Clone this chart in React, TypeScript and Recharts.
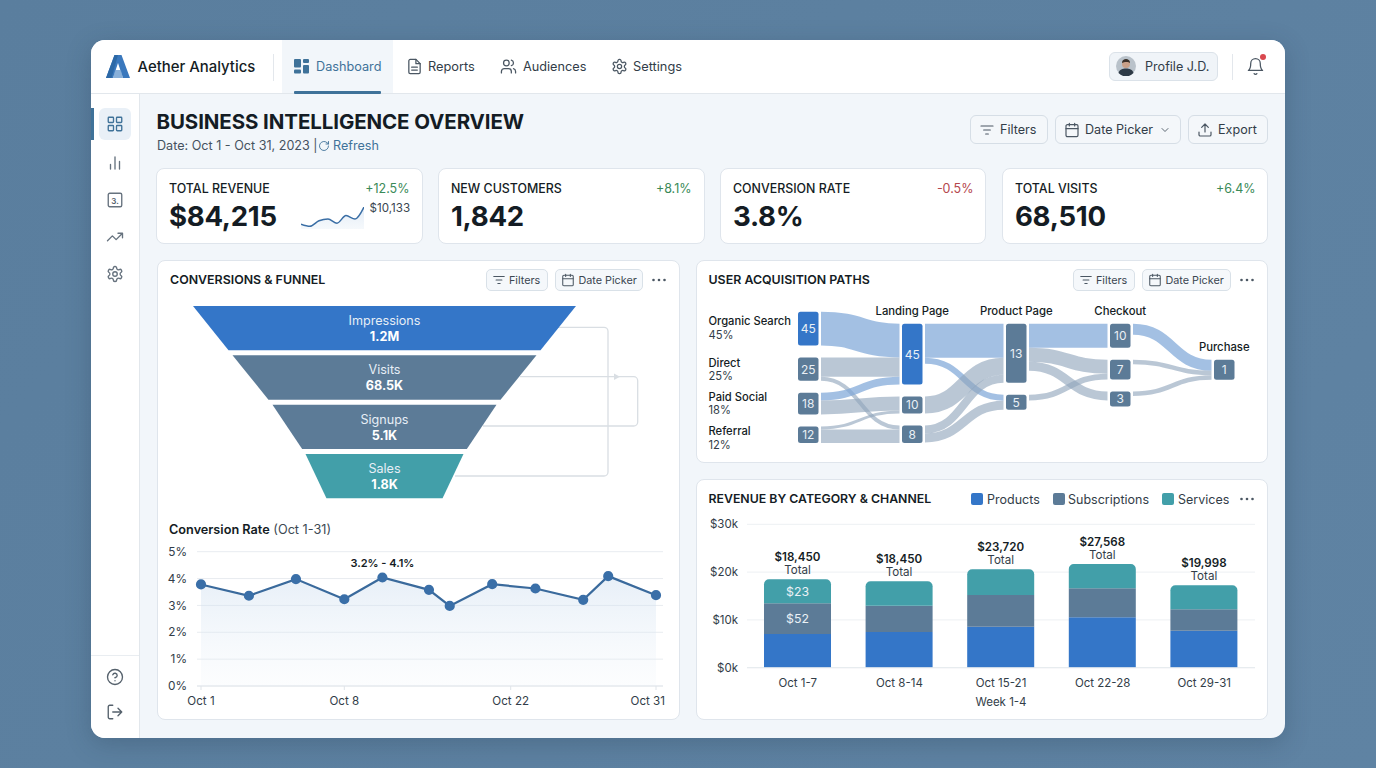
import React from 'react';
import {
  AreaChart, Area, ComposedChart, Line, XAxis, YAxis, CartesianGrid, BarChart, Bar,
  FunnelChart, Funnel, Sankey,
} from 'recharts';

// ---------- data ----------
const kpiLabels = ['TOTAL REVENUE', 'NEW CUSTOMERS', 'CONVERSION RATE', 'TOTAL VISITS'];
const kpiValues = ['$84,215', '1,842', '3.8%', '68,510'];
const kpiDeltas = ['+12.5%', '+8.1%', '-0.5%', '+6.4%'];
const sparkValues = [8.23, 8.0, 8.61, 8.8, 8.34, 9.18, 8.8, 10.13];

const funnelStages = ['Impressions', 'Visits', 'Signups', 'Sales'];
const funnelFigures = ['1.2M', '68.5K', '5.1K', '1.8K'];
const funnelDrawnValues = [383, 304, 224, 158];

const rateAxisPos = [0, 3.16, 6.26, 9.45, 11.96, 15.03, 16.4, 19.2, 22.05, 25.2, 26.85, 30];
const rateValues = [3.78, 3.36, 3.98, 3.23, 4.04, 3.58, 2.98, 3.79, 3.63, 3.21, 4.09, 3.38];
const rateTickPos = [0, 9.45, 20.42, 30];
const rateTickLabels = ['Oct 1', 'Oct 8', 'Oct 22', 'Oct 31'];
const rateTicksY = [0, 1, 2, 3, 4, 5];

// Nodes with no "shown" text are empty rows that keep the columns stepped as in the picture.
const sankeyNodes = [
  { name: 'Organic Search', share: '45%', shown: '45' },
  { name: 'Direct', share: '25%', shown: '25' },
  { name: 'Paid Social', share: '18%', shown: '18' },
  { name: 'Referral', share: '12%', shown: '12' },
  { name: 'row1' },
  { name: 'Landing Page', shown: '45' },
  { name: 'Landing B', shown: '10' },
  { name: 'Landing C', shown: '8' },
  { name: 'row2' },
  { name: 'Product Page', shown: '13' },
  { name: 'Product B', shown: '5' },
  { name: 'row3' },
  { name: 'Checkout', shown: '10' },
  { name: 'Checkout B', shown: '7' },
  { name: 'Checkout C', shown: '3' },
  { name: 'row4a' },
  { name: 'row4b' },
  { name: 'row4c' },
  { name: 'row4d' },
  { name: 'Purchase', shown: '1' },
];
const sankeyFlows: [string, string, number][] = [
  ['Organic Search', 'row1', 0],
  ['row1', 'row2', 0],
  ['row2', 'row3', 0],
  ['row3', 'row4a', 0],
  ['row3', 'row4b', 0],
  ['row3', 'row4c', 0],
  ['row3', 'row4d', 0],
  ['Organic Search', 'Landing Page', 33.7],
  ['Direct', 'Landing Page', 19.3],
  ['Direct', 'Landing C', 4],
  ['Paid Social', 'Landing Page', 7.7],
  ['Paid Social', 'Landing B', 14],
  ['Referral', 'Landing B', 3],
  ['Referral', 'Landing C', 13.7],
  ['Landing Page', 'Product Page', 34],
  ['Landing Page', 'Product B', 6],
  ['Landing B', 'Product Page', 17],
  ['Landing C', 'Product Page', 8],
  ['Landing C', 'Product B', 9],
  ['Product Page', 'Checkout', 24],
  ['Product Page', 'Checkout B', 14],
  ['Product Page', 'Checkout C', 9],
  ['Product B', 'Checkout B', 5.7],
  ['Checkout', 'Purchase', 11],
  ['Checkout B', 'Purchase', 4.5],
  ['Checkout C', 'Purchase', 4.5],
];
const sankeyBlueLinks = ['Organic Search>Landing Page', 'Paid Social>Landing Page', 'Landing Page>Product Page', 'Landing Page>Product B', 'Product Page>Checkout', 'Checkout>Purchase'];
const sankeyBlueNodes = ['Organic Search', 'Landing Page'];
const sankeyHeadings = ['Landing Page', 'Product Page', 'Checkout', 'Purchase'];

const weeks = ['Oct 1-7', 'Oct 8-14', 'Oct 15-21', 'Oct 22-28', 'Oct 29-31'];
const products = [7.05, 7.47, 8.58, 10.54, 7.75];
const subscriptions = [6.42, 5.51, 6.63, 6.07, 4.46];
const services = [5.02, 5.09, 5.38, 5.09, 5.03];
const weekTotals = ['$18,450', '$18,450', '$23,720', '$27,568', '$19,998'];
const subsNotes = ['$52'];
const servNotes = ['$23'];
const revenueTicks = [0, 10, 20, 30];
const legendNames = ['Products', 'Subscriptions', 'Services'];

// ---------- tables ----------
const sparkData = sparkValues.map((v, i) => ({ i, v }));
const funnelData = funnelStages.map((stage, i) => ({ stage, figure: funnelFigures[i], value: funnelDrawnValues[i] }));
const rateData = rateAxisPos.map((pos, i) => ({ pos, rate: rateValues[i] }));
const revenueData = weeks.map((week, i) => ({ week, products: products[i], subscriptions: subscriptions[i], services: services[i] }));
const nodeIndex = (name: string) => sankeyNodes.findIndex((n) => n.name === name);
const sankeyData = {
  nodes: sankeyNodes,
  links: sankeyFlows.map(([s, t, value]) => ({ source: nodeIndex(s), target: nodeIndex(t), value })),
};

// ---------- style ----------
const FONT = 'Inter, "Noto Sans", sans-serif';
const BLUE = '#3476c8';
const SLATE = '#5c7b97';
const TEAL = '#429fa9';
const INK = '#141c24';
const TEXT = '#323d48';
const ACCENT = '#3f7299';
const FUNNEL_FILL = [BLUE, SLATE, SLATE, TEAL];
const LAST_TAPER = 0.735;

const T = ({ x, y, size = 13, weight = 400, color = TEXT, right, center, spacing, children }: any) => (
  <div style={{
    position: 'absolute', left: right === undefined ? x : undefined, right: right === undefined ? undefined : 1376 - right, top: y,
    transform: center ? 'translate(-50%,-50%)' : 'translateY(-50%)', fontSize: size, fontWeight: weight, color, letterSpacing: spacing,
    whiteSpace: 'nowrap', lineHeight: 1, fontFamily: FONT,
  }}>{children}</div>
);

const Box = ({ x, y, w, h, r = 8, bg = '#fff', border = '#dfe5ec', children }: any) => (
  <div style={{ position: 'absolute', left: x, top: y, width: w, height: h, borderRadius: r, background: bg, border: border ? `1px solid ${border}` : 'none', boxSizing: 'border-box' }}>{children}</div>
);

const Ico = ({ cx, cy, s = 16, color = '#4b5763', sw = 1.8, children }: any) => (
  <svg width={s} height={s} viewBox="0 0 24 24" fill="none" stroke={color} strokeWidth={sw} strokeLinecap="round" strokeLinejoin="round"
    style={{ position: 'absolute', left: cx - s / 2, top: cy - s / 2 }}>{children}</svg>
);

const FilterI = () => <path d="M3 6h18M7 12h10M10 18h4" />;
const CalI = () => <><rect x="3" y="4" width="18" height="18" rx="2" /><path d="M3 10h18M8 2v4M16 2v4" /></>;
const GearI = () => <><circle cx="12" cy="12" r="3" /><path d="M12.22 2h-.44a2 2 0 0 0-2 2v.18a2 2 0 0 1-1 1.73l-.43.25a2 2 0 0 1-2 0l-.15-.08a2 2 0 0 0-2.73.73l-.22.38a2 2 0 0 0 .73 2.73l.15.1a2 2 0 0 1 1 1.72v.51a2 2 0 0 1-1 1.74l-.15.09a2 2 0 0 0-.73 2.73l.22.38a2 2 0 0 0 2.73.73l.15-.08a2 2 0 0 1 2 0l.43.25a2 2 0 0 1 1 1.73V20a2 2 0 0 0 2 2h.44a2 2 0 0 0 2-2v-.18a2 2 0 0 1 1-1.73l.43-.25a2 2 0 0 1 2 0l.15.08a2 2 0 0 0 2.73-.73l.22-.39a2 2 0 0 0-.73-2.73l-.15-.08a2 2 0 0 1-1-1.74v-.5a2 2 0 0 1 1-1.74l.15-.09a2 2 0 0 0 .73-2.73l-.22-.38a2 2 0 0 0-2.73-.73l-.15.08a2 2 0 0 1-2 0l-.43-.25a2 2 0 0 1-1-1.73V4a2 2 0 0 0-2-2z" /></>;

const Dots = ({ cx, cy }: any) => (
  <svg width="16" height="4" style={{ position: 'absolute', left: cx - 8, top: cy - 2 }}>
    <circle cx="2.5" cy="2" r="1.3" fill="#4b5763" /><circle cx="8" cy="2" r="1.3" fill="#4b5763" /><circle cx="13.5" cy="2" r="1.3" fill="#4b5763" />
  </svg>
);

const MiniBtns = ({ fx, dx, w2, dots }: any) => (
  <>
    <Box x={fx} y={269} w={62} h={22} r={5} bg="#f5f8fb" border="#d9e1e8" />
    <Ico cx={fx + 13} cy={280} s={14}><FilterI /></Ico>
    <T x={fx + 23} y={280.5} size={10.8} color="#3b4651">Filters</T>
    <Box x={dx} y={269} w={w2} h={22} r={5} bg="#f5f8fb" border="#d9e1e8" />
    <Ico cx={dx + 13} cy={280} s={14}><CalI /></Ico>
    <T x={dx + 23.5} y={280.5} size={10.8} color="#3b4651">Date Picker</T>
    <Dots cx={dots} cy={280} />
  </>
);

// ---------- chart parts ----------
const FunnelShape = (p: any) => {
  const { x, y, upperWidth, lowerWidth, height, stage, figure } = p.payload && p.payload.stage ? { ...p, ...p.payload, x: p.x, y: p.y } : p;
  const idx = funnelStages.indexOf(stage);
  const gap = 5;
  const h = height - gap;
  const cx = x + upperWidth / 2;
  const low = lowerWidth === upperWidth ? upperWidth * LAST_TAPER : lowerWidth;
  const bottom = upperWidth + (low - upperWidth) * (idx === funnelStages.length - 1 ? 1 : h / height);
  return (
    <g>
      <path d={`M${cx - upperWidth / 2},${y}L${cx + upperWidth / 2},${y}L${cx + bottom / 2},${y + h}L${cx - bottom / 2},${y + h}Z`} fill={FUNNEL_FILL[idx]} />
      <text x={cx} y={y + 14.5} textAnchor="middle" dominantBaseline="central" fill="#e6eef6" fontSize={12.6} fontFamily={FONT}>{stage}</text>
      <text x={cx} y={y + 30.5} textAnchor="middle" dominantBaseline="central" fill="#fff" fontSize={12.6} fontWeight={700} fontFamily={FONT}>{figure}</text>
    </g>
  );
};

const SankeyNode = (p: any) => {
  const { x, y, width, height, payload } = p;
  if (!payload.shown) return <g />;
  const h = Math.max(height, 15);
  const fill = sankeyBlueNodes.includes(payload.name) ? BLUE : SLATE;
  return (
    <g>
      <rect x={x} y={y} width={width} height={h} rx={2.5} fill={fill} />
      <text x={x + width / 2} y={y + h / 2} textAnchor="middle" dominantBaseline="central" fill="#e9eff5" fontSize={12} fontFamily={FONT}>{payload.shown}</text>
      {sankeyHeadings.includes(payload.name) && (
        <text x={x + width / 2} y={y - 13} textAnchor="middle" dominantBaseline="central" fill={INK} fontSize={11.3} fontWeight={500} fontFamily={FONT}>{payload.name}</text>
      )}
    </g>
  );
};

const SankeyLink = (p: any) => {
  const { sourceX, targetX, sourceY, targetY, sourceControlX, targetControlX, linkWidth, payload } = p;
  if (!linkWidth) return <g />;
  const key = `${payload.source.name}>${payload.target.name}`;
  const blue = sankeyBlueLinks.includes(key);
  const pad = 2.5;
  return (
    <path d={`M${sourceX + pad},${sourceY}C${sourceControlX},${sourceY} ${targetControlX},${targetY} ${targetX - pad},${targetY}`}
      fill="none" stroke={blue ? '#7fa8d8' : '#8fa5bb'} strokeOpacity={blue ? 0.72 : 0.62} strokeWidth={linkWidth} />
  );
};

const RateTick = ({ x, y, payload }: any) => {
  const i = rateTickPos.indexOf(payload.value);
  const last = i === rateTickPos.length - 1;
  return <text x={last ? x + 9 : x} y={y + 8.7} textAnchor={last ? 'end' : 'middle'} dominantBaseline="central" fontSize={11.6} fill={TEXT} fontFamily={FONT}>{rateTickLabels[i]}</text>;
};

const rangeLabel = ({ x, y, index }: any) => (index === 4
  ? <text key="range" x={x} y={y - 14} textAnchor="middle" dominantBaseline="central" fontSize={11} fontWeight={600} fill={INK} fontFamily={FONT}>3.2% - 4.1%</text>
  : <g key={index} />);

const totalLabel = ({ x, y, width, index }: any) => (
  <g key={index}>
    <text x={x + width / 2} y={y - 22} textAnchor="middle" dominantBaseline="central" fontSize={11.6} fontWeight={600} fill={INK} fontFamily={FONT}>{weekTotals[index]}</text>
    <text x={x + width / 2} y={y - 9} textAnchor="middle" dominantBaseline="central" fontSize={11.6} fill={TEXT} fontFamily={FONT}>Total</text>
  </g>
);

const noteLabel = (notes: string[]) => ({ x, y, width, height, index }: any) => (notes[index]
  ? <text key={index} x={x + width / 2} y={y + height / 2} textAnchor="middle" dominantBaseline="central" fontSize={12.3} fill="#eaf1f6" fontFamily={FONT}>{notes[index]}</text>
  : <g key={index} />);

const at = (x: number, y: number): React.CSSProperties => ({ position: 'absolute', left: x, top: y });
const kpiX = [156, 438, 720, 1002];
const kpiW = [267, 267, 266, 266];

export default function App() {
  return (
    <div style={{ position: 'absolute', left: 0, top: 0, width: 1376, height: 768, overflow: 'hidden', background: 'linear-gradient(135deg,#5a7e9e,#5f83a3)', fontFamily: FONT }}>
      <div style={{ position: 'absolute', left: 91, top: 40, width: 1194, height: 698, borderRadius: 14, overflow: 'hidden', background: '#f2f6fa', boxShadow: '0 6px 24px rgba(30,50,70,.25)' }} />
      {/* top bar */}
      <div style={{ position: 'absolute', left: 91, top: 40, width: 1194, height: 53.5, borderRadius: '14px 14px 0 0', background: '#fff', borderBottom: '1px solid #e2e7ec', boxSizing: 'border-box' }} />
      <svg width="24" height="23" viewBox="0 0 24 23" style={at(106, 55)}>
        <path d="M8.500 0h7L24 23h-7L12 8 7 23H0z" fill="#3a78bd" />
        <path d="M8.500 0h3.500L5.500 23H0z" fill="#2c68a6" />
        <path d="M9 15h6l2 8H7z" fill="#6b9cd0" opacity="0.8" />
      </svg>
      <T x={137.500} y={66.500} size={14.900} weight={500} color={INK}>Aether Analytics</T>
      <div style={{ position: 'absolute', left: 273, top: 54, width: 1, height: 27, background: '#e3e7ec' }} />
      <div style={{ position: 'absolute', left: 282, top: 40, width: 111, height: 53, background: '#f2f6fa' }} />
      <div style={{ position: 'absolute', left: 294, top: 91, width: 87, height: 2.500, background: ACCENT, borderRadius: 1 }} />
      <svg width="16" height="15" style={at(294, 59)}>
        <rect x="0" y="0" width="7" height="8.500" rx="1" fill="#3f7299" /><rect x="9" y="0" width="6" height="4" rx="1" fill="#3f7299" />
        <rect x="9" y="6" width="6" height="8.500" rx="1" fill="#3f7299" /><rect x="0" y="10.500" width="7" height="4" rx="1" fill="#3f7299" />
      </svg>
      <T x={316} y={66.500} size={12.700} color={ACCENT}>Dashboard</T>
      <Ico cx={414} cy={66} s={17}><path d="M14 2H6a2 2 0 0 0-2 2v16a2 2 0 0 0 2 2h12a2 2 0 0 0 2-2V8z" /><path d="M14 2v6h6M8 13h8M8 17h8" /></Ico>
      <T x={428} y={66.500} size={12.800}>Reports</T>
      <Ico cx={508} cy={66} s={17}><path d="M16 21v-2a4 4 0 0 0-4-4H6a4 4 0 0 0-4 4v2" /><circle cx="9" cy="7" r="4" /><path d="M22 21v-2a4 4 0 0 0-3-3.870M16 3.130a4 4 0 0 1 0 7.750" /></Ico>
      <T x={523} y={66.500} size={12.700}>Audiences</T>
      <Ico cx={619} cy={66} s={17}><GearI /></Ico>
      <T x={633} y={66.500} size={12.800}>Settings</T>
      <Box x={1109} y={52} w={109} h={29} r={6} bg="#f0f4f8" border="#dbe2e9" />
      <svg width="20" height="20" viewBox="0 0 20 20" style={at(1116, 56)}>
        <circle cx="10" cy="10" r="10" fill="#b9c2ca" />
        <path d="M2.500 17c1-3.500 4-4.500 7.500-4.500s6.500 1 7.500 4.500A10 10 0 0 1 2.500 17z" fill="#2e3a46" />
        <circle cx="10" cy="8" r="4" fill="#c9a088" /><path d="M6 7c0-3 2-4 4-4s4 1 4 4c-1-1.500-6-1.500-8 0z" fill="#3a3029" />
      </svg>
      <T x={1145} y={66.500} size={12.600}>Profile J.D.</T>
      <div style={{ position: 'absolute', left: 1232, top: 54, width: 1, height: 26, background: '#e3e7ec' }} />
      <Ico cx={1255} cy={66} s={19} sw={1.600}><path d="M6 8a6 6 0 0 1 12 0c0 7 3 9 3 9H3s3-2 3-9M10.300 21a1.940 1.940 0 0 0 3.400 0" /></Ico>
      <div style={{ position: 'absolute', left: 1260, top: 54, width: 6, height: 6, borderRadius: 3, background: '#d9484f' }} />
      {/* sidebar */}
      <div style={{ position: 'absolute', left: 91, top: 93.500, width: 48.500, height: 644.500, background: '#fff', borderRight: '1px solid #e2e7ec', boxSizing: 'border-box', borderRadius: '0 0 0 14px' }} />
      <div style={{ position: 'absolute', left: 99, top: 108, width: 32, height: 32, background: '#e9f0f7', borderRadius: 6 }} />
      <div style={{ position: 'absolute', left: 91, top: 108, width: 3, height: 32, background: ACCENT }} />
      <Ico cx={115} cy={124} s={18} color="#3f7299"><rect x="3" y="3" width="7" height="7" rx="1" /><rect x="14" y="3" width="7" height="7" rx="1" /><rect x="3" y="14" width="7" height="7" rx="1" /><rect x="14" y="14" width="7" height="7" rx="1" /></Ico>
      <Ico cx={115} cy={163} s={18} color="#66727e"><path d="M6 20v-6M12 20V4M18 20v-10" /></Ico>
      <Ico cx={115} cy={200} s={18} color="#66727e"><rect x="3" y="3" width="18" height="18" rx="2" /></Ico>
      <T x={115} y={200.500} size={8} weight={600} color="#56626e" center>3.</T>
      <Ico cx={115} cy={237} s={18} color="#66727e"><path d="M22 7l-8.500 8.500-5-5L2 17M16 7h6v6" /></Ico>
      <Ico cx={115} cy={274} s={18} color="#66727e"><GearI /></Ico>
      <div style={{ position: 'absolute', left: 91, top: 655, width: 48, height: 1, background: '#e9edf1' }} />
      <Ico cx={115} cy={677} s={18} color="#55616c"><circle cx="12" cy="12" r="10" /><path d="M9.090 9a3 3 0 0 1 5.830 1c0 2-3 3-3 3M12 17h.01" /></Ico>
      <Ico cx={115} cy={712} s={18} color="#55616c"><path d="M9 21H5a2 2 0 0 1-2-2V5a2 2 0 0 1 2-2h4M16 17l5-5-5-5M21 12H9" /></Ico>

      {/* heading */}
      <T x={156.500} y={121.500} size={20.500} weight={700} color={INK} spacing={-0.1}>BUSINESS INTELLIGENCE OVERVIEW</T>
      <T x={157} y={145.500} size={12.600} color="#45525f">Date: Oct 1 - Oct 31, 2023 |</T>
      <Ico cx={324} cy={145.500} s={12} color={ACCENT}><path d="M21 12a9 9 0 1 1-3-6.700L21 8M21 3v5h-5" /></Ico>
      <T x={333} y={145.500} size={12.600} color={ACCENT}>Refresh</T>

      <Box x={970} y={115} w={78} h={29} r={6} bg="#f4f7fa" border="#d6dee6" />
      <Ico cx={987} cy={129.500} s={16}><FilterI /></Ico>
      <T x={1000} y={130} size={12.600}>Filters</T>
      <Box x={1055} y={115} w={126} h={29} r={6} bg="#f4f7fa" border="#d6dee6" />
      <Ico cx={1071.500} cy={129.500} s={16}><CalI /></Ico>
      <T x={1085} y={130} size={12.600}>Date Picker</T>
      <Ico cx={1165} cy={129.500} s={12}><path d="m6 9 6 6 6-6" /></Ico>
      <Box x={1188} y={115} w={80} h={29} r={6} bg="#f4f7fa" border="#d6dee6" />
      <Ico cx={1204.500} cy={129.500} s={16}><path d="M21 15v4a2 2 0 0 1-2 2H5a2 2 0 0 1-2-2v-4M17 8l-5-5-5 5M12 3v12" /></Ico>
      <T x={1218} y={130} size={12.600}>Export</T>

      {/* KPI cards */}
      {kpiLabels.map((label, i) => (
        <React.Fragment key={label}>
          <Box x={kpiX[i]} y={168} w={kpiW[i]} h={76} />
          <T x={kpiX[i] + 13} y={188.500} size={12.400} weight={500} color={INK}>{label}</T>
          <T x={kpiX[i] + 13} y={216.500} size={27.600} weight={700} color={INK} spacing={-0.3}>{kpiValues[i]}</T>
          <T right={kpiX[i] + 253.500} y={188.500} size={12.500} color={kpiDeltas[i].startsWith('-') ? '#b5474d' : '#3a8a58'}>{kpiDeltas[i]}</T>
        </React.Fragment>
      ))}
      <div style={at(301, 207)}>
        <AreaChart width={63} height={22} data={sparkData} margin={{ top: 0, right: 0, bottom: 0, left: 0 }}>
          <defs><linearGradient id="sparkFill" x1="0" y1="0" x2="0" y2="1"><stop offset="0" stopColor="#b9d0ea" stopOpacity={0.7} /><stop offset="1" stopColor="#dfe9f4" stopOpacity={0.5} /></linearGradient></defs>
          <XAxis dataKey="i" hide /><YAxis hide domain={[7.7, 10.13]} />
          <Area dataKey="v" type="monotone" stroke="#3a6ea5" strokeWidth={1.500} fill="url(#sparkFill)" isAnimationActive={false} />
        </AreaChart>
      </div>
      <T x={369.500} y={209} size={11.600} color="#3a4550">$10,133</T>

      {/* panels */}
      <Box x={157} y={260} w={523} h={460} />
      <Box x={696} y={260} w={572} h={203} />
      <Box x={696} y={479} w={572} h={241} />

      {/* funnel panel */}
      <T x={170} y={279.500} size={12.400} weight={600} color={INK}>CONVERSIONS &amp; FUNNEL</T>
      <MiniBtns fx={486} dx={555} w2={88} dots={659} />
      <svg width="524" height="200" style={at(157, 300)} fill="none" stroke="#d9dee3" strokeWidth={1.300}>
        <path d="M401,27.300H447a4,4 0 0 1 4,4V172a4,4 0 0 1 -4,4H298" />
        <path d="M363,76.700H476.700a4,4 0 0 1 4,4V122a4,4 0 0 1 -4,4H326" />
        <path d="M457,73.500L463,76.700L457,80" fill="#d9dee3" stroke="none" />
      </svg>
      <div style={at(193, 305.700)}>
        <FunnelChart width={383} height={197.300} margin={{ top: 0, right: 0, bottom: 0, left: 0 }}>
          <Funnel dataKey="value" nameKey="stage" data={funnelData} lastShapeType="rectangle" shape={FunnelShape} isAnimationActive={false} stroke="none" />
        </FunnelChart>
      </div>

      {/* conversion rate */}
      <T x={169} y={529.500} size={12.700} color={INK}><span style={{ fontWeight: 600 }}>Conversion Rate</span> <span style={{ color: '#3c4853' }}>(Oct 1-31)</span></T>
      <div style={at(157, 541)}>
        <ComposedChart width={515} height={174} data={rateData} margin={{ top: 10.700, right: 9, bottom: 0, left: 0 }}>
          <defs><linearGradient id="rateFill" x1="0" y1="0" x2="0" y2="1"><stop offset="0" stopColor="#c9dbee" stopOpacity={0.75} /><stop offset="1" stopColor="#eaf1f8" stopOpacity={0.25} /></linearGradient></defs>
          <CartesianGrid horizontal vertical={false} stroke="#e8ecf0" />
          <XAxis dataKey="pos" type="number" domain={[0, 30]} ticks={rateTickPos} padding={{ left: 4, right: 7 }} tick={<RateTick />} axisLine={{ stroke: '#e3e7ec' }} tickLine={{ stroke: '#dfe4e9' }} tickSize={4} height={29} interval={0} />
          <YAxis width={40} domain={[0, 5]} ticks={rateTicksY} tickFormatter={(v: number) => `${v}%`} axisLine={false} tickLine={false} tickSize={0} tickMargin={10} tick={{ fontSize: 11.800, fill: TEXT, fontFamily: FONT }} />
          <Area dataKey="rate" type="linear" stroke="none" fill="url(#rateFill)" isAnimationActive={false} />
          <Line dataKey="rate" type="linear" stroke="#3a6a9c" strokeWidth={2.200} dot={{ r: 4, fill: '#3a6fa8', stroke: '#3a6fa8' }} label={rangeLabel} isAnimationActive={false} />
        </ComposedChart>
      </div>

      {/* sankey panel */}
      <T x={708.500} y={279.500} size={12.400} weight={600} color={INK}>USER ACQUISITION PATHS</T>
      <MiniBtns fx={1073} dx={1142} w2={89} dots={1247} />
      <div style={at(700, 292)}>
        <Sankey width={560} height={165} data={sankeyData} node={SankeyNode} link={SankeyLink} nodeWidth={20.500} nodePadding={12} sort={false} iterations={0} verticalAlign="top"
          margin={{ top: 19.700, right: 25.500, bottom: 13.900, left: 98 }} />
      </div>
      {sankeyNodes.slice(0, 4).map((n, i) => (
        <React.Fragment key={n.name}>
          <T x={708.500} y={[322, 364, 398, 432][i]} size={11.200} weight={500} color={INK}>{n.name}</T>
          <T x={708.500} y={[336, 377, 411, 446][i]} size={11.200} color={TEXT}>{n.share}</T>
        </React.Fragment>
      ))}

      {/* revenue panel */}
      <T x={708.500} y={499} size={12.300} weight={600} color={INK}>REVENUE BY CATEGORY &amp; CHANNEL</T>
      {legendNames.map((name, i) => (
        <React.Fragment key={name}>
          <div style={{ position: 'absolute', left: [971, 1053, 1162][i], top: 493, width: 11.500, height: 11.500, borderRadius: 2, background: [BLUE, SLATE, TEAL][i] }} />
          <T x={[987, 1068, 1178][i]} y={499.500} size={12.500}>{name}</T>
        </React.Fragment>
      ))}
      <Dots cx={1247} cy={499} />
      <div style={at(697, 510)}>
        <BarChart width={570} height={205} data={revenueData} margin={{ top: 14.300, right: 12, bottom: 0, left: 0 }} barSize={67}>
          <CartesianGrid horizontal vertical={false} stroke="#edf0f3" />
          <XAxis dataKey="week" height={47.300} axisLine={{ stroke: '#e6eaee' }} tickLine={false} tickSize={0} tickMargin={11} tick={{ fontSize: 11.500, fill: TEXT, fontFamily: FONT }} interval={0}
            label={{ value: 'Week 1-4', position: 'insideBottom', offset: 9.500, fontSize: 11.500, fill: TEXT, fontFamily: FONT }} />
          <YAxis width={50} domain={[0, 30]} ticks={revenueTicks} tickFormatter={(v: number) => `$${v}k`} axisLine={false} tickLine={false} tickSize={0} tickMargin={9} tick={{ fontSize: 11.500, fill: TEXT, fontFamily: FONT }} />
          <Bar dataKey="products" stackId="a" fill={BLUE} isAnimationActive={false} />
          <Bar dataKey="subscriptions" stackId="a" fill={SLATE} label={noteLabel(subsNotes)} isAnimationActive={false} />
          <Bar dataKey="services" stackId="a" fill={TEAL} radius={[5, 5, 0, 0]} label={(p: any) => <g key={p.index}>{noteLabel(servNotes)(p)}{totalLabel(p)}</g>} isAnimationActive={false} />
        </BarChart>
      </div>
    </div>
  );
}
